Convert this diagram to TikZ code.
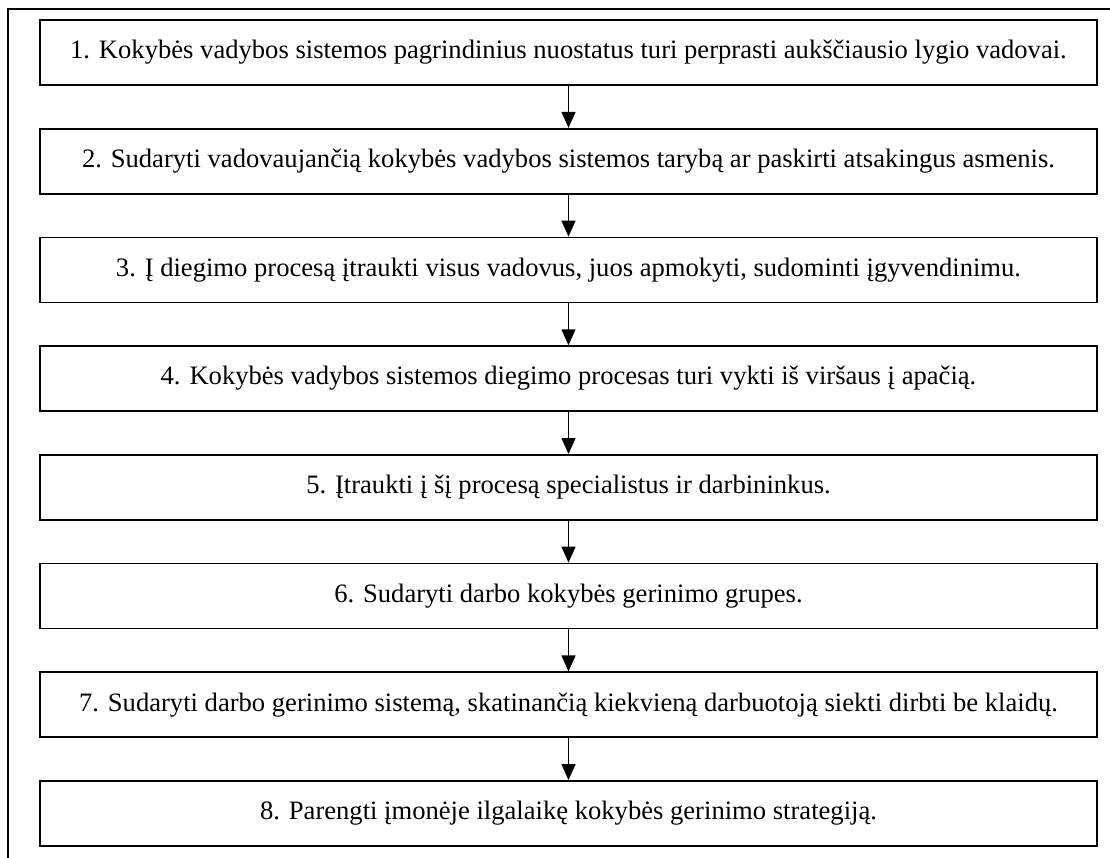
\documentclass[tikz,border=0pt]{standalone}
\usepackage{fontspec}
\setmainfont{Liberation Serif}
\usetikzlibrary{arrows.meta}
\begin{document}
\begin{tikzpicture}[x=1pt,y=-1pt,
  stepbox/.style={draw,line width=1.6pt,minimum width=1057pt,minimum height=65pt,
    inner sep=0pt,font=\fontsize{26.6}{30}\selectfont},
  flow/.style={line width=1.4pt,-{Triangle[width=14pt,length=16pt]}}]
\useasboundingbox (0,0) rectangle (1110,857);
% outer frame (only the top and left edges fall inside the page)
\draw[line width=1.6pt] (8,900) -- (8,9) -- (1200,9);
\node[stepbox] (s1) at (568.5,52.5) {1. Kokybės vadybos sistemos pagrindinius nuostatus turi perprasti aukščiausio lygio vadovai.};
\node[stepbox] (s2) at (568.5,161.2) {2. Sudaryti vadovaujančią kokybės vadybos sistemos tarybą ar paskirti atsakingus asmenis.};
\node[stepbox] (s3) at (568.5,269.9) {3. Į diegimo procesą įtraukti visus vadovus, juos apmokyti, sudominti įgyvendinimu.};
\node[stepbox] (s4) at (568.5,378.6) {4. Kokybės vadybos sistemos diegimo procesas turi vykti iš viršaus į apačią.};
\node[stepbox] (s5) at (568.5,487.3) {5. Įtraukti į šį procesą specialistus ir darbininkus.};
\node[stepbox] (s6) at (568.5,596.0) {6. Sudaryti darbo kokybės gerinimo grupes.};
\node[stepbox] (s7) at (568.5,704.7) {7. Sudaryti darbo gerinimo sistemą, skatinančią kiekvieną darbuotoją siekti dirbti be klaidų.};
\node[stepbox] (s8) at (568.5,813.4) {8. Parengti įmonėje ilgalaikę kokybės gerinimo strategiją.};
\foreach \a/\b in {s1/s2,s2/s3,s3/s4,s4/s5,s5/s6,s6/s7,s7/s8}
  \draw[flow] (\a.south) -- (\b.north);
\end{tikzpicture}
\end{document}
